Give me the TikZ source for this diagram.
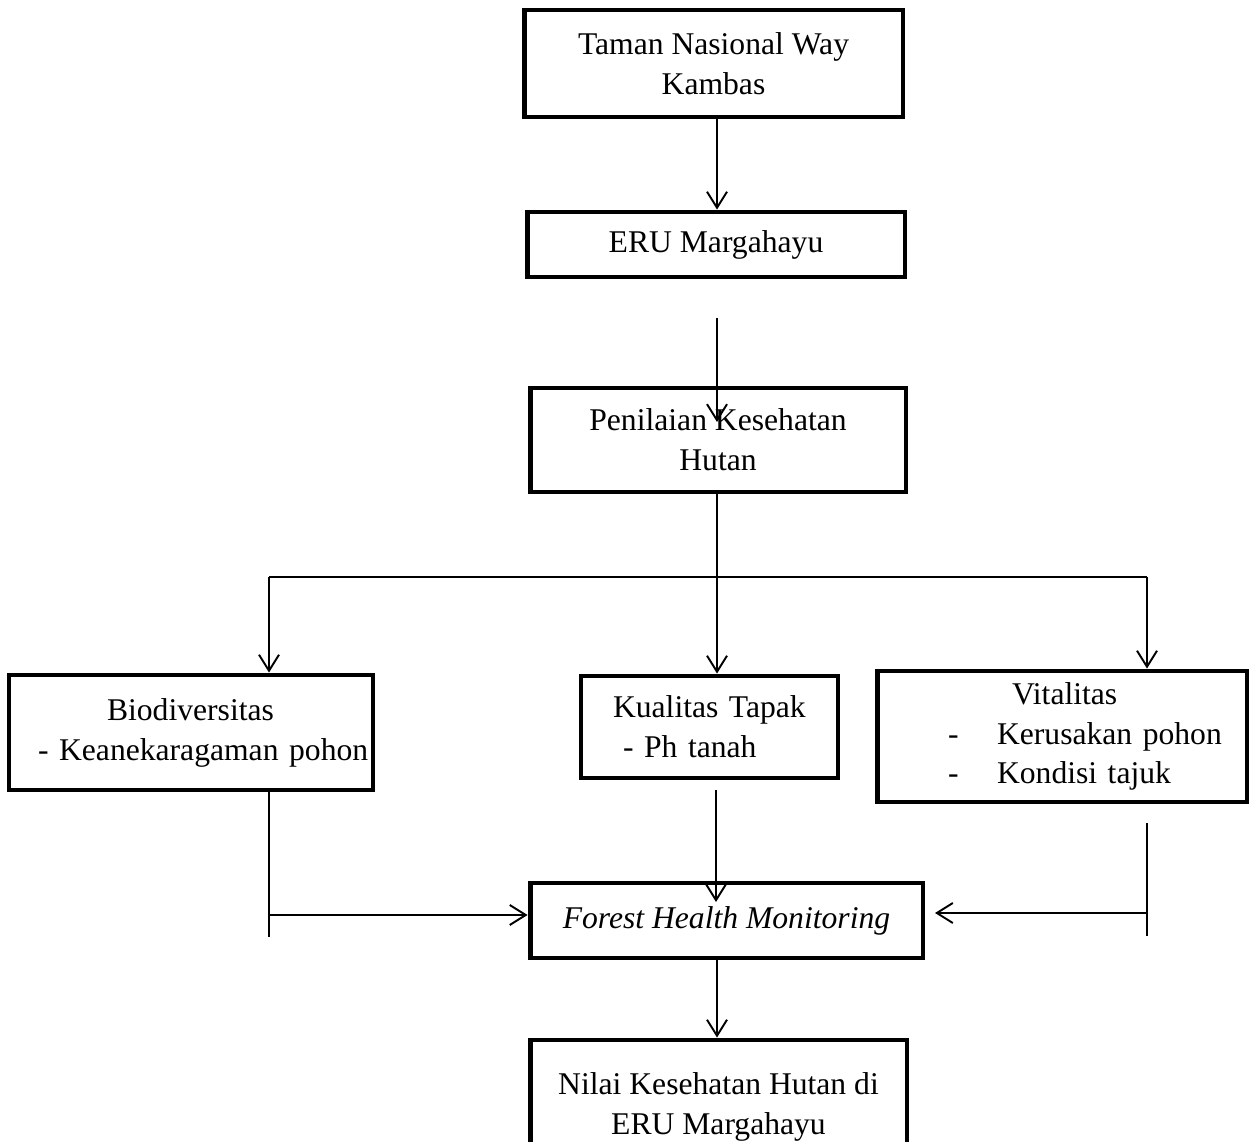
\documentclass[tikz,border=0pt]{standalone}
\usepackage{fontspec}
\setmainfont{Liberation Serif}
\usepackage{tikz}
\usetikzlibrary{arrows.meta}

\begin{document}
\begin{tikzpicture}[
    x=0.02cm, y=-0.02cm, % one unit is one pixel, y grows downwards
    box/.style={
        draw, % thick frame round each stage
        line width=2.8pt, % heavy border
        inner xsep=0.08cm, % text runs close to the frame
        font=\fontsize{18}{22.7}\selectfont % Times-like text
    },
    flow/.style={
        draw, % thin connector
        line width=1.1pt,
        -{Straight Barb[length=0.32cm,width=0.4cm,line width=1.1pt]} % open V tip
    },
    wire/.style={draw, line width=1.1pt} % connector with no tip
]
\useasboundingbox (0,0) rectangle (1249,1142);

% stages
\node[box, align=center, minimum width=7.58cm, minimum height=2.14cm] (taman) at (713.5,63.5) {Taman Nasional Way\\Kambas};
\node[box, align=center, minimum width=7.56cm, minimum height=1.3cm] (eru) at (716,244.5) {ERU Margahayu};
\node[box, align=center, minimum width=7.52cm, minimum height=2.08cm] (pen) at (718,440) {Penilaian Kesehatan\\Hutan};
\node[box, align=left, text width=7.12cm, minimum height=2.3cm] (bio) at (191,732.5)
    {\hspace*{1.88cm}\mbox{Biodiversitas}\\\hspace*{0.5cm}\mbox{- Keanekaragaman pohon}};
\node[box, align=left, text width=4.98cm, minimum height=2.04cm] (tapak) at (709.5,727)
    {\hspace*{0.56cm}\mbox{Kualitas Tapak}\\\hspace*{0.76cm}\mbox{- Ph tanah}};
\node[box, align=left, text width=7.24cm, minimum height=2.62cm] (vital) at (1062,736.5)
    {\hspace*{2.62cm}Vitalitas\\\hspace*{1.34cm}-\hspace{0.77cm}\mbox{Kerusakan pohon}\\\hspace*{1.34cm}-\hspace{0.77cm}\mbox{Kondisi tajuk}};
\node[box, align=center, minimum width=7.86cm, minimum height=1.5cm] (fhm) at (726.5,920.5) {\textit{Forest Health Monitoring}};
\node[box, align=center, minimum width=7.54cm, minimum height=2.68cm] (nilai) at (718.5,1107) {Nilai Kesehatan Hutan di\\ERU Margahayu};

% loose ends of the connectors
\coordinate (spine) at (717,0);
\coordinate (eruGap) at (717,318);
\coordinate (penTip) at (717,422);
\coordinate (branchL) at (269,577);
\coordinate (branchR) at (1147,577);
\coordinate (bioFoot) at (269,937);
\coordinate (joinL) at (269,915);
\coordinate (tapakGap) at (716,790);
\coordinate (fhmTip) at (716,902);
\coordinate (vitalTop) at (1147,823);
\coordinate (vitalFoot) at (1147,936);
\coordinate (joinR) at (1147,913);
\coordinate (fhmGap) at (935,913);

% connectors
\draw[flow] (taman.south -| spine) -- (eru.north -| spine);
\draw[flow] (eruGap) -- (penTip);
\draw[flow] (pen.south -| spine) -- (tapak.north -| spine);
\draw[wire] (branchL) -- (branchR);
\draw[flow] (branchL) -- (branchL |- bio.north);
\draw[flow] (branchR) -- (branchR |- vital.north);
\draw[wire] (bio.south -| bioFoot) -- (bioFoot);
\draw[flow] (joinL) -- (joinL -| fhm.west);
\draw[flow] (tapakGap) -- (fhmTip);
\draw[wire] (vitalTop) -- (vitalFoot);
\draw[flow] (joinR) -- (fhmGap);
\draw[flow] (fhm.south -| spine) -- (nilai.north -| spine);
\end{tikzpicture}
\end{document}
